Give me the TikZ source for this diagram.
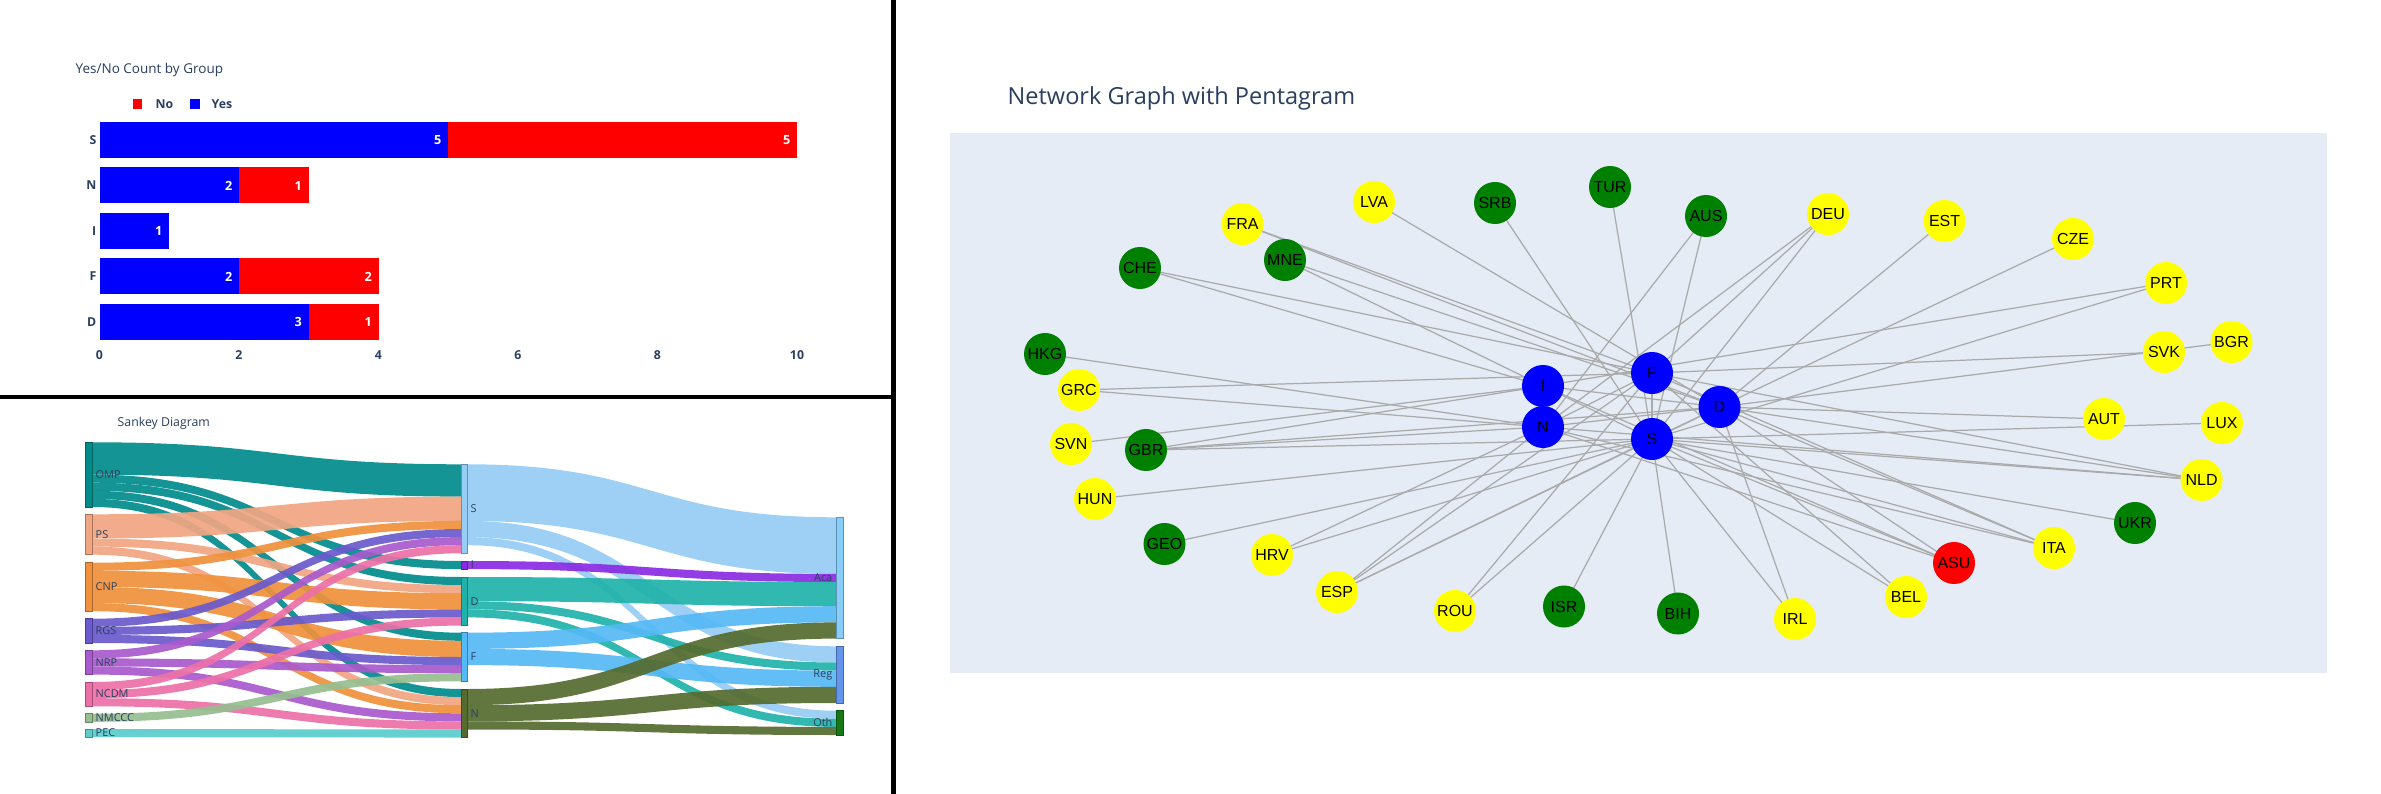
\documentclass[tikz,border=0pt]{standalone}
\usepackage{fontspec}
\setmainfont{Open Sans}
\newfontfamily\arialf{Liberation Sans}
\usetikzlibrary{backgrounds}
\definecolor{axisc}{RGB}{42,63,95}
\definecolor{plotbg}{RGB}{229,236,246}
\definecolor{edgec}{RGB}{170,170,170}
\definecolor{gblue}{RGB}{0,0,255}
\definecolor{gyellow}{RGB}{255,255,0}
\definecolor{ggreen}{RGB}{0,128,0}
\definecolor{gred}{RGB}{255,0,0}
\definecolor{cOMP}{RGB}{0,139,139}
\definecolor{cPS}{RGB}{241,166,130}
\definecolor{cCNP}{RGB}{240,145,60}
\definecolor{cRGS}{RGB}{106,90,205}
\definecolor{cNRP}{RGB}{170,90,205}
\definecolor{cNCDM}{RGB}{236,112,168}
\definecolor{cNMCCC}{RGB}{150,190,145}
\definecolor{cPEC}{RGB}{90,205,205}
\definecolor{cS}{RGB}{150,205,245}
\definecolor{cI}{RGB}{138,43,226}
\definecolor{cD}{RGB}{32,178,170}
\definecolor{cF}{RGB}{85,185,245}
\definecolor{cN}{RGB}{85,107,47}
\definecolor{cAca}{RGB}{135,206,250}
\definecolor{cReg}{RGB}{100,149,237}
\definecolor{cOth}{RGB}{20,120,20}
\newcommand\skflow[7]{%
  \fill[#7, fill opacity=0.92] (#1,#2) .. controls ({(#1+#4)/2},#2) and ({(#1+#4)/2},#5) .. (#4,#5)
    -- (#4,#6) .. controls ({(#1+#4)/2},#6) and ({(#1+#4)/2},#3) .. (#1,#3) -- cycle;}
\newcommand\sknode[5]{% x1 x2 y1 y2 color
  \filldraw[fill=#5, draw=#5!70!black, line width=0.15pt] (#1,#3) rectangle (#2,#4);}
\tikzset{
  ttl/.style={font=\fontsize{3.84pt}{4.6pt}\selectfont, text=axisc, inner sep=0, anchor=west},
  tick/.style={font=\bfseries\fontsize{3.5pt}{4pt}\selectfont, text=axisc, inner sep=0},
  bartxt/.style={font=\bfseries\fontsize{3.6pt}{4pt}\selectfont, text=white, inner sep=0, anchor=east},
  sklab/.style={font=\fontsize{3.1pt}{3.5pt}\selectfont, text=axisc, inner sep=0},
  gnode/.style={circle, inner sep=0, minimum size=0.42cm, font=\arialf\fontsize{4.55pt}{5pt}\selectfont, text=black},
  edge/.style={draw=edgec, line width=0.35pt},
}
\begin{document}
\begin{tikzpicture}[x=0.01cm, y=-0.01cm]
\useasboundingbox (0,0) rectangle (2381,794);
\begin{scope}[on background layer]
\fill[white] (0,0) rectangle (2381,794);
\fill[plotbg] (950,133) rectangle (2327,673);
\end{scope}
% panel separators
\fill[black] (0,395) rectangle (893,399);
\fill[black] (891,0) rectangle (896,794);

% ================= Bar chart =================
\node[ttl] (bartitle) at (75,70) {Yes/No Count by Group};
\fill[gred] (133,99.5) rectangle (142.3,109);
\node[tick, anchor=west] (legno) at (155,104) {No};
\fill[gblue] (189.7,99.5) rectangle (199.5,109);
\node[tick, anchor=west] (legyes) at (211,104) {Yes};
% bars (unit 69.75 px)
\fill[gblue] (99.5,122) rectangle (448.25,158);
\fill[gred] (448.25,122) rectangle (797,158);
\fill[gblue] (99.5,167.5) rectangle (239,203.5);
\fill[gred] (239,167.5) rectangle (308.75,203.5);
\fill[gblue] (99.5,213) rectangle (169.25,249);
\fill[gblue] (99.5,258.5) rectangle (239,294.5);
\fill[gred] (239,258.5) rectangle (378.5,294.5);
\fill[gblue] (99.5,304) rectangle (308.75,340);
\fill[gred] (308.75,304) rectangle (378.5,340);
\node[bartxt] (vS1) at (442,140) {5};
\node[bartxt] (vS2) at (791,140) {5};
\node[bartxt] (vN1) at (233,185.5) {2};
\node[bartxt] (vN2) at (302.5,185.5) {1};
\node[bartxt] (vI1) at (163,231) {1};
\node[bartxt] (vF1) at (233,276.5) {2};
\node[bartxt] (vF2) at (372.5,276.5) {2};
\node[bartxt] (vD1) at (302.5,322) {3};
\node[bartxt] (vD2) at (372.5,322) {1};
\node[tick, anchor=east] (cS) at (97,140) {S};
\node[tick, anchor=east] (cN) at (97,185.5) {N};
\node[tick, anchor=east] (cI) at (97,231) {I};
\node[tick, anchor=east] (cF) at (97,276.5) {F};
\node[tick, anchor=east] (cD) at (97,322) {D};
\foreach \v in {0,2,4,6,8,10} \node[tick] (tick\v) at ({99.5+69.75*\v},355) {\v};

% ================= Sankey =================
\node[ttl, font=\fontsize{3.5pt}{4pt}\selectfont] (sktitle) at (117,423) {Sankey Diagram};
% left -> middle
\skflow{92.5}{442.3}{474.6}{461}{464.3}{496.6}{cOMP}
\skflow{92.5}{474.6}{482.7}{461}{561}{569.1}{cOMP}
\skflow{92.5}{482.7}{490.8}{461}{577}{585.1}{cOMP}
\skflow{92.5}{490.8}{498.9}{461}{632.7}{640.8}{cOMP}
\skflow{92.5}{498.9}{507.0}{461}{689}{697.1}{cOMP}
\skflow{92.5}{514.3}{538.5}{461}{496.6}{520.9}{cPS}
\skflow{92.5}{538.5}{546.6}{461}{585.1}{593.2}{cPS}
\skflow{92.5}{546.6}{554.7}{461}{697.1}{705.2}{cPS}
\skflow{92.5}{562.7}{570.8}{461}{520.9}{529.0}{cCNP}
\skflow{92.5}{570.8}{587.0}{461}{593.2}{609.4}{cCNP}
\skflow{92.5}{587.0}{603.1}{461}{640.8}{657.0}{cCNP}
\skflow{92.5}{603.1}{611.2}{461}{705.2}{713.3}{cCNP}
\skflow{92.5}{618.7}{626.8}{461}{529.0}{537.1}{cRGS}
\skflow{92.5}{626.8}{634.9}{461}{609.4}{617.5}{cRGS}
\skflow{92.5}{634.9}{643.0}{461}{657.0}{665.1}{cRGS}
\skflow{92.5}{650.3}{658.4}{461}{537.1}{545.2}{cNRP}
\skflow{92.5}{658.4}{666.5}{461}{665.1}{673.2}{cNRP}
\skflow{92.5}{666.5}{674.6}{461}{713.3}{721.4}{cNRP}
\skflow{92.5}{682.0}{690.1}{461}{545.2}{553.3}{cNCDM}
\skflow{92.5}{690.1}{698.2}{461}{617.5}{625.6}{cNCDM}
\skflow{92.5}{698.2}{706.3}{461}{721.4}{729.5}{cNCDM}
\skflow{92.5}{713.7}{721.8}{461}{673.2}{681.3}{cNMCCC}
\skflow{92.5}{729.0}{737.1}{461}{729.5}{737.6}{cPEC}
% middle -> right
\skflow{467}{464.3}{520.9}{836}{517.3}{573.9}{cS}
\skflow{467}{520.9}{537.1}{836}{646.3}{662.5}{cS}
\skflow{467}{537.1}{545.2}{836}{710.7}{718.8}{cS}
\skflow{467}{561.0}{569.1}{836}{573.9}{582.0}{cI}
\skflow{467}{577.0}{601.2}{836}{582.0}{606.2}{cD}
\skflow{467}{601.2}{609.3}{836}{662.5}{670.6}{cD}
\skflow{467}{609.3}{617.4}{836}{718.8}{726.9}{cD}
\skflow{467}{632.7}{648.9}{836}{606.2}{622.4}{cF}
\skflow{467}{648.9}{665.1}{836}{670.6}{686.8}{cF}
\skflow{467}{689.0}{705.2}{836}{622.4}{638.6}{cN}
\skflow{467}{705.2}{721.4}{836}{686.8}{703.0}{cN}
\skflow{467}{721.4}{729.5}{836}{726.9}{735.0}{cN}
% sankey nodes
\sknode{85.6}{92.5}{442.3}{507.0}{cOMP}
\sknode{85.6}{92.5}{514.3}{554.7}{cPS}
\sknode{85.6}{92.5}{562.7}{611.2}{cCNP}
\sknode{85.6}{92.5}{618.7}{642.9}{cRGS}
\sknode{85.6}{92.5}{650.3}{674.5}{cNRP}
\sknode{85.6}{92.5}{682.0}{706.2}{cNCDM}
\sknode{85.6}{92.5}{713.7}{721.8}{cNMCCC}
\sknode{85.6}{92.5}{729.0}{737.1}{cPEC}
\sknode{461}{467}{464.3}{553.3}{cS}
\sknode{461}{467}{561.0}{569.1}{cI}
\sknode{461}{467}{577.0}{625.6}{cD}
\sknode{461}{467}{632.7}{681.3}{cF}
\sknode{461}{467}{689.0}{737.6}{cN}
\sknode{836}{843}{517.3}{638.6}{cAca}
\sknode{836}{843}{646.3}{703.0}{cReg}
\sknode{836}{843}{710.7}{735.0}{cOth}
% sankey labels
\node[sklab, anchor=west] (lOMP) at (95,474.6) {OMP};
\node[sklab, anchor=west] (lPS) at (95,534.5) {PS};
\node[sklab, anchor=west] (lCNP) at (95,587) {CNP};
\node[sklab, anchor=west] (lRGS) at (95,630.8) {RGS};
\node[sklab, anchor=west] (lNRP) at (95,662.4) {NRP};
\node[sklab, anchor=west] (lNCDM) at (95,694.1) {NCDM};
\node[sklab, anchor=west] (lNMCCC) at (95,717.8) {NMCCC};
\node[sklab, anchor=west] (lPEC) at (95,733) {PEC};
\node[sklab, anchor=west] (lS) at (470,508.8) {S};
\node[sklab, anchor=west] (lI) at (470,565) {I};
\node[sklab, anchor=west] (lD) at (470,601.3) {D};
\node[sklab, anchor=west] (lF) at (470,657) {F};
\node[sklab, anchor=west] (lN) at (470,713.3) {N};
\node[sklab, anchor=east] (lAca) at (833,578) {Aca};
\node[sklab, anchor=east] (lReg) at (833,674.6) {Reg};
\node[sklab, anchor=east] (lOth) at (833,722.8) {Oth};

% ================= Network graph =================
\node[ttl, font=\fontsize{6.69pt}{8pt}\selectfont] (nettitle) at (1007,98) {Network Graph with Pentagram};
% central nodes
\node[gnode, fill=gblue] (I) at (1543,386) {I};
\node[gnode, fill=gblue] (N) at (1543,427) {N};
\node[gnode, fill=gblue] (F) at (1652,373) {F};
\node[gnode, fill=gblue] (D) at (1719.5,407) {D};
\node[gnode, fill=gblue] (S) at (1652,439) {S};
% outer nodes
\node[gnode, fill=gyellow] (LVA) at (1374,202) {LVA};
\node[gnode, fill=ggreen] (SRB) at (1495,203) {SRB};
\node[gnode, fill=ggreen] (TUR) at (1610,187) {TUR};
\node[gnode, fill=gyellow] (FRA) at (1242.5,224) {FRA};
\node[gnode, fill=ggreen] (MNE) at (1285,260) {MNE};
\node[gnode, fill=ggreen] (CHE) at (1140,268) {CHE};
\node[gnode, fill=ggreen] (HKG) at (1045,354) {HKG};
\node[gnode, fill=gyellow] (GRC) at (1079,390) {GRC};
\node[gnode, fill=gyellow] (SVN) at (1071,444) {SVN};
\node[gnode, fill=ggreen] (GBR) at (1146,450) {GBR};
\node[gnode, fill=gyellow] (HUN) at (1095,499) {HUN};
\node[gnode, fill=ggreen] (GEO) at (1164.5,544) {GEO};
\node[gnode, fill=gyellow] (HRV) at (1272,555) {HRV};
\node[gnode, fill=gyellow] (ESP) at (1337,592) {ESP};
\node[gnode, fill=gyellow] (ROU) at (1455,611) {ROU};
\node[gnode, fill=ggreen] (ISR) at (1564,606.5) {ISR};
\node[gnode, fill=ggreen] (BIH) at (1678,613.5) {BIH};
\node[gnode, fill=gyellow] (IRL) at (1795,619) {IRL};
\node[gnode, fill=gyellow] (BEL) at (1906,597) {BEL};
\node[gnode, fill=gred] (ASU) at (1954,563) {ASU};
\node[gnode, fill=gyellow] (ITA) at (2054,548) {ITA};
\node[gnode, fill=ggreen] (UKR) at (2135,523) {UKR};
\node[gnode, fill=gyellow] (NLD) at (2201.6,480) {NLD};
\node[gnode, fill=gyellow] (LUX) at (2222,423) {LUX};
\node[gnode, fill=gyellow] (AUT) at (2104,419) {AUT};
\node[gnode, fill=gyellow] (SVK) at (2164,352) {SVK};
\node[gnode, fill=gyellow] (BGR) at (2231.5,342) {BGR};
\node[gnode, fill=gyellow] (PRT) at (2166,283) {PRT};
\node[gnode, fill=gyellow] (CZE) at (2073,239) {CZE};
\node[gnode, fill=gyellow] (EST) at (1944.6,221) {EST};
\node[gnode, fill=gyellow] (DEU) at (1828,214) {DEU};
\node[gnode, fill=ggreen] (AUS) at (1706,216) {AUS};
\begin{scope}[on background layer]
\foreach \a/\b in {F/S, S/I, I/D, D/N, N/F,
  LVA/D, SRB/S, TUR/S, AUS/N, AUS/S, DEU/F, DEU/N, DEU/S, EST/D, CZE/S,
  PRT/I, PRT/S, SVK/F, BGR/D, AUT/D, LUX/S,
  NLD/S, NLD/N, NLD/F, NLD/D, UKR/S,
  ITA/D, ITA/S, ITA/N, ITA/F, ASU/D, ASU/S, ASU/N, ASU/I,
  BEL/F, BEL/S, IRL/S, IRL/D, BIH/S, ISR/S, ROU/F, ROU/S,
  ESP/N, ESP/F, ESP/S, ESP/D, HRV/N, HRV/S, GEO/S, HUN/S,
  GBR/I, GBR/N, GBR/S, GBR/D, SVN/I, GRC/F, GRC/N, HKG/N,
  CHE/F, CHE/I, FRA/F, FRA/D, MNE/D, MNE/I}
  \draw[edge] (\a.center) -- (\b.center);
\end{scope}
\end{tikzpicture}
\end{document}
